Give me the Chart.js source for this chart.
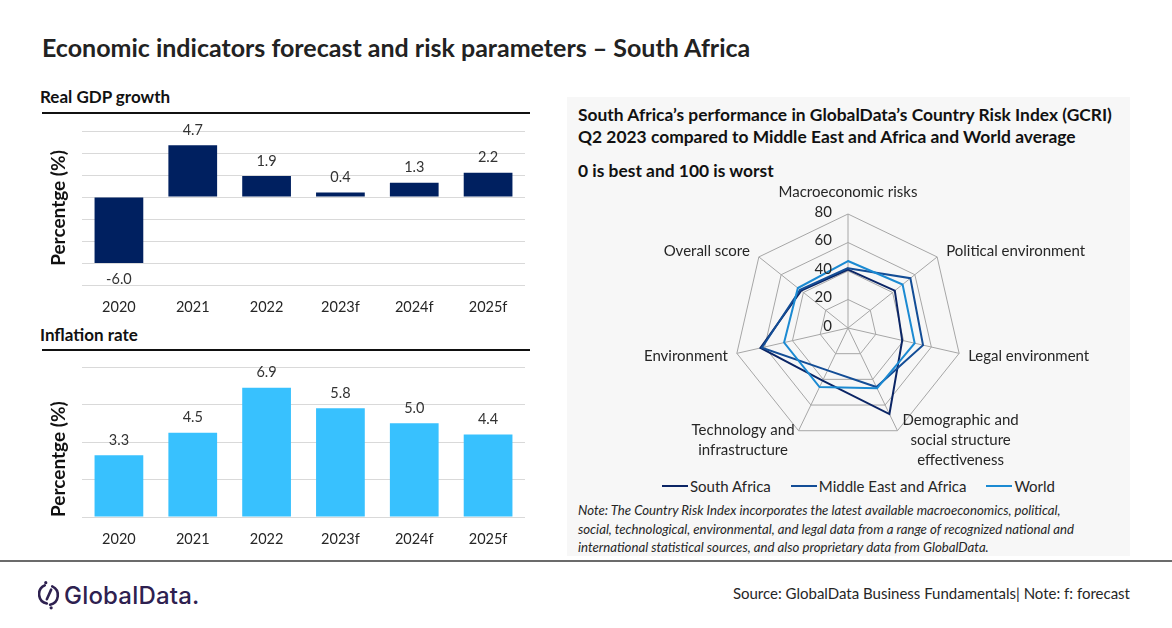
<!DOCTYPE html>
<html>
<head>
<meta charset="utf-8">
<script src="https://cdn.jsdelivr.net/npm/chart.js@4"></script>
<style>
  html, body { margin: 0; padding: 0; background: #fff; }
  body { width: 1172px; height: 628px; position: relative; overflow: hidden; font-family: Lato, "Open Sans", sans-serif; color: #262626; }
  .abs { position: absolute; }
  .title { left: 42px; top: 32px; font-size: 25px; font-weight: 700; color: #222; white-space: nowrap; }
  .sub { left: 40px; font-size: 17px; font-weight: 700; color: #111; }
  .rule { left: 42px; width: 488px; height: 2px; background: #111; }
  .box { left: 567px; top: 97px; width: 563px; height: 459px; background: #f7f7f7; }
  .boxhead { left: 578px; font-size: 17.4px; font-weight: 700; color: #111; line-height: 22px; white-space: nowrap; }
  #legend { left: 587px; width: 543px; top: 477px; display: flex; justify-content: center; gap: 20px; font-size: 15px; }
  #legend span.item { display: flex; align-items: center; }
  #legend span.swatch { display: inline-block; width: 26px; height: 2px; margin-right: 2px; }
  .note { left: 578px; top: 501px; font-size: 13.2px; font-style: italic; line-height: 18.5px; color: #262626; white-space: nowrap; }
  .footline { left: 0; top: 560px; width: 1172px; height: 2px; background: #6b6b6b; }
  .source { right: 42px; top: 584px; font-size: 15px; white-space: nowrap; }
  .logo { left: 38px; top: 580px; display: flex; align-items: center; color: #2e2150; font-family: Inter, sans-serif; font-size: 24px; font-weight: 500; letter-spacing: 0.2px; }
  canvas { position: absolute; }
</style>
</head>
<body>
<div class="abs title">Economic indicators forecast and risk parameters – South Africa</div>

<div class="abs sub" style="top:86px">Real GDP growth</div>
<div class="abs rule" style="top:112px"></div>
<div class="abs" style="left:38px;top:120px;width:492px;height:200px"><canvas id="gdpChart"></canvas></div>

<div class="abs sub" style="top:324px">Inflation rate</div>
<div class="abs rule" style="top:349px"></div>
<div class="abs" style="left:38px;top:356px;width:492px;height:196px"><canvas id="inflChart"></canvas></div>

<div class="abs box"></div>
<div class="abs boxhead" style="top:104px">South Africa’s performance in GlobalData’s Country Risk Index (GCRI)<br>Q2 2023 compared to Middle East and Africa and World average</div>
<div class="abs boxhead" style="top:160px">0 is best and 100 is worst</div>
<div class="abs" style="left:567px;top:175px;width:563px;height:300px"><canvas id="riskChart"></canvas></div>
<div class="abs" id="legend"></div>
<div class="abs note">Note: The Country Risk Index incorporates the latest available macroeconomics, political,<br>social, technological, environmental, and legal data from a range of recognized national and<br>international statistical sources, and also proprietary data from GlobalData.</div>

<div class="abs footline"></div>
<div class="abs logo">
  <svg width="22" height="30" viewBox="0 0 20 28" style="margin-right:4px">
    <path d="M6 5 A9 9 0 0 0 8 22" fill="none" stroke="#2e2150" stroke-width="2.4" stroke-linecap="round"/>
    <path d="M13 6 A9 9 0 0 1 11 23" fill="none" stroke="#2e2150" stroke-width="2.4" stroke-linecap="round"/>
    <line x1="12" y1="9" x2="8" y2="18" stroke="#2e2150" stroke-width="2.4" stroke-linecap="round"/>
    <circle cx="7" cy="2.5" r="1.5" fill="#2e2150"/>
    <circle cx="12" cy="26" r="1.5" fill="#2e2150"/>
  </svg>
  GlobalData.
</div>
<div class="abs source">Source: GlobalData Business Fundamentals| Note: f: forecast</div>

<script>
// Chart data
const years = ['2020', '2021', '2022', '2023f', '2024f', '2025f'];
const gdpGrowth = [-6.0, 4.7, 1.9, 0.4, 1.3, 2.2];
const inflation = [3.3, 4.5, 6.9, 5.8, 5.0, 4.4];

const riskAxes = [
    'Macroeconomic risks',
    'Political environment',
    'Legal environment',
    ['Demographic and', 'social structure', 'effectiveness'],
    ['Technology and', 'infrastructure'],
    'Environment',
    'Overall score',
];
const seriesNames = ['South Africa', 'Middle East and Africa', 'World'];
const southAfrica = [41, 42, 39, 67, 41, 63, 42];
const middleEastAfrica = [42, 56, 54, 46, 33, 62, 43];
const world = [47, 49, 48, 47, 46, 46, 45];
const seriesColors = ['#0b2565', '#134d96', '#1b8ad2'];

Chart.defaults.font.family = 'Lato';
Chart.defaults.color = '#262626';
Chart.defaults.animation = false;

// value labels above / below bars
const barLabels = {
    id: 'barLabels',
    afterDatasetsDraw(chart) {
        const ctx = chart.ctx;
        const meta = chart.getDatasetMeta(0);
        const values = chart.data.datasets[0].data;
        ctx.save();
        ctx.font = '14.5px Lato';
        ctx.fillStyle = '#333';
        ctx.textAlign = 'center';
        ctx.textBaseline = 'middle';
        meta.data.forEach((bar, i) => {
            const v = values[i];
            const y = v >= 0 ? bar.y - 15 : bar.y + 16;
            ctx.fillText(v.toFixed(1), bar.x, y);
        });
        ctx.restore();
    },
};

function createBarChart(canvas, data, color, min, max, titleAlign) {
    return new Chart(canvas, {
        type: 'bar',
        data: {
            labels: years,
            datasets: [{
                data: data,
                backgroundColor: color,
                barPercentage: 0.66,
                categoryPercentage: 1,
            }],
        },
        options: {
            responsive: true,
            maintainAspectRatio: false,
            layout: { padding: { top: 11, right: 5 } },
            plugins: { legend: { display: false }, tooltip: { enabled: false } },
            scales: {
                x: {
                    grid: { display: false, drawTicks: false },
                    border: { display: false },
                    ticks: { padding: 14, font: { size: 14.5 }, color: '#262626' },
                    afterFit: (scale) => { scale.height = 35; },
                },
                y: {
                    min: min,
                    max: max,
                    ticks: { display: false, stepSize: 2 },
                    grid: { color: '#d9d9d9', drawTicks: false },
                    border: { display: false },
                    title: {
                        display: true,
                        text: 'Percentge (%)',
                        align: titleAlign,
                        font: { size: 19, weight: 'bold' },
                        color: '#111',
                        padding: { top: 9, bottom: 0 },
                    },
                    afterFit: (scale) => { scale.width = 44; },
                },
            },
        },
        plugins: [barLabels],
    });
}

createBarChart(document.getElementById('gdpChart'), gdpGrowth, '#002060', -8, 6, 'center');
createBarChart(document.getElementById('inflChart'), inflation, '#38c1fe', 0, 8, 'start');

// tick values and axis names for the radar, placed like the source
const radarText = {
    id: 'radarText',
    afterDraw(chart) {
        const r = chart.scales.r;
        const ctx = chart.ctx;
        ctx.save();
        ctx.fillStyle = '#262626';
        ctx.font = '15px Lato';
        ctx.textBaseline = 'middle';
        ctx.textAlign = 'right';
        r.ticks.forEach((t) => {
            const p = r.getPointPositionForValue(0, t.value);
            ctx.fillText(String(t.value), p.x - 16, p.y - 2);
        });

        const lh = 20;
        chart.data.labels.forEach((lab, i) => {
            const lines = [].concat(lab);
            const p = r.getPointPosition(i, r.drawingArea);
            const dx = p.x - r.xCenter;
            const dy = p.y - r.yCenter;
            const w = Math.max(...lines.map((s) => ctx.measureText(s).width));
            let cx, cy, align;
            if (Math.abs(dx) < 1) {
                align = 'center';
                cx = p.x;
                cy = dy < 0 ? p.y - 22 : p.y + 22;
            } else if (dy > r.drawingArea * 0.5) {
                align = 'center';
                cx = dx > 0 ? p.x + 5 + w / 2 : p.x - 4 - w / 2;
                cy = p.y + 9;
            } else {
                align = dx > 0 ? 'left' : 'right';
                cx = dx > 0 ? p.x + 9 : p.x - 9;
                cy = dy < 0 ? p.y - 6 : p.y + 3;
            }
            ctx.textAlign = align;
            const y0 = cy - (lines.length - 1) * lh / 2;
            lines.forEach((s, k) => ctx.fillText(s, cx, y0 + k * lh));
        });
        ctx.restore();
    },
};

const riskSeries = [southAfrica, middleEastAfrica, world];
new Chart(document.getElementById('riskChart'), {
    type: 'radar',
    data: {
        labels: riskAxes,
        datasets: riskSeries.map((d, i) => ({
            label: seriesNames[i],
            data: d,
            borderColor: seriesColors[i],
            backgroundColor: 'transparent',
            borderWidth: 2,
            pointRadius: 0,
            fill: false,
        })).reverse(),
    },
    options: {
        responsive: true,
        maintainAspectRatio: false,
        layout: { padding: { left: 167, right: 168, top: 39, bottom: 33 } },
        plugins: { legend: { display: false }, tooltip: { enabled: false } },
        scales: {
            r: {
                min: 0,
                max: 80,
                ticks: { display: false, stepSize: 20 },
                grid: { color: '#a6a6a6', lineWidth: 1 },
                angleLines: { color: '#a6a6a6', lineWidth: 1 },
                pointLabels: { display: false },
            },
        },
    },
    plugins: [radarText],
});

// legend
const legend = document.getElementById('legend');
seriesNames.forEach((name, i) => {
    const item = document.createElement('span');
    item.className = 'item';
    item.innerHTML = '<span class="swatch" style="background:' + seriesColors[i] + '"></span>' + name;
    legend.appendChild(item);
});
</script>
</body>
</html>
